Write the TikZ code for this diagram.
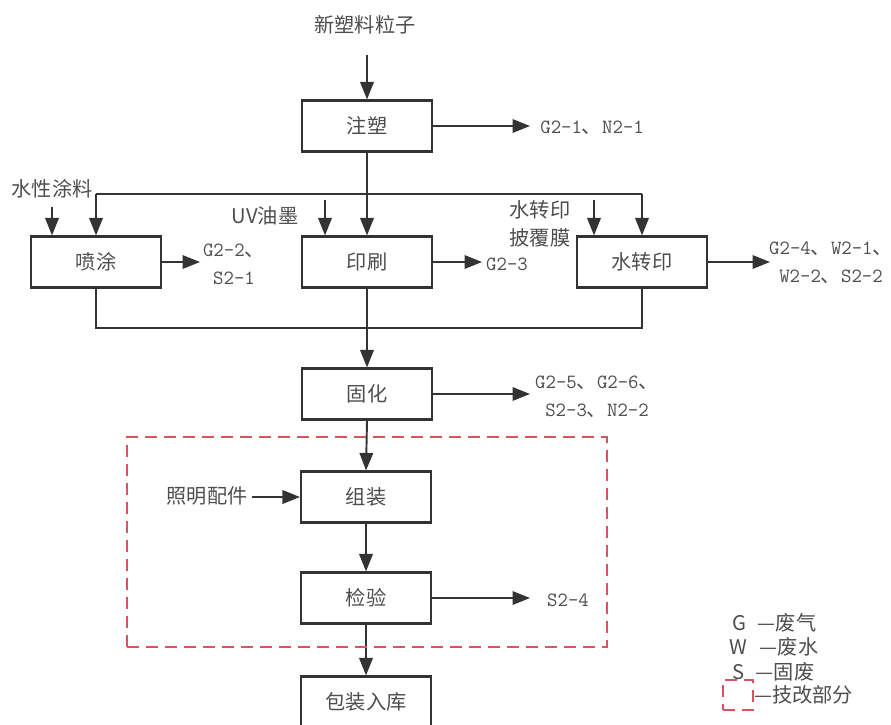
\documentclass[tikz,border=0pt]{standalone}
\usepackage{fontspec}
\setmainfont{Noto Sans CJK SC}
\usetikzlibrary{arrows.meta,positioning,calc}
\definecolor{txtgray}{HTML}{4D4D4D}
\definecolor{linegray}{HTML}{333333}
\definecolor{dashred}{HTML}{D9545E}
\newcommand{\dun}{{\rmfamily 、}}

\begin{document}
\begin{tikzpicture}[x=0.02cm, y=-0.02cm,
    every node/.style={font=\fontsize{11.5}{16}\selectfont, text=txtgray},
    procbox/.style={rectangle, draw=linegray, line width=1.2pt, minimum width=2.6cm, minimum height=1.02cm, inner sep=0pt},
    flow/.style={draw=linegray, line width=1.1pt},
    arr/.style={flow, -{Triangle[length=3.5mm,width=2.7mm]}},
    code/.style={font=\ttfamily\fontsize{11.5}{16}\selectfont, align=center, inner sep=0pt},
    redbox/.style={draw=dashred, line width=1pt, dash pattern=on 0.24cm off 0.14cm}]
    \useasboundingbox (0,0) rectangle (891,724);

    % process boxes
    \node[procbox] (zs) at (367,126) {注塑};
    \node[procbox] (pt) at (96,262) {喷涂};
    \node[procbox] (ys) at (367,262) {印刷};
    \node[procbox] (szy) at (642,262) {水转印};
    \node[procbox] (gh) at (367,394) {固化};
    \node[procbox] (zz) at (366,497) {组装};
    \node[procbox] (jy) at (366,598) {检验};
    \node[procbox] (bz) at (366,702) {包装入库};

    % raw materials
    \node (xin) at (365,25) {新塑料粒子};
    \node (stl) at (52,189) {水性涂料};
    \node (uv) at (265,216) {UV油墨};
    \node[align=center, inner sep=0pt] (pfm) at (540,224) {水转印\\披覆膜};
    \node (zm) at (207,496) {照明配件};

    \coordinate (a0) at (367,55);
    \coordinate (a1) at (52,207);
    \coordinate (a2) at (325,200);
    \coordinate (a3) at (594,200);
    \coordinate (a4) at (252,497);

    \draw[arr] (a0) -- (zs.north);
    \draw[arr] (a1) -- (a1 |- pt.north);
    \draw[arr] (a2) -- (a2 |- ys.north);
    \draw[arr] (a3) -- (a3 |- szy.north);
    \draw[arr] (a4) -- (zz.west);

    % main flow
    \coordinate (fl) at (pt.north |- 0,194);
    \coordinate (fr) at (szy.north |- 0,194);
    \coordinate (cl) at (pt.south |- 0,328);
    \coordinate (cr) at (szy.south |- 0,328);
    \draw[arr] (zs.south) -- (ys.north);
    \draw[flow] (fl) -- (fr);
    \draw[arr] (fl) -- (pt.north);
    \draw[arr] (fr) -- (szy.north);
    \draw[flow] (pt.south) -- (cl) -- (cr) -- (szy.south);
    \draw[arr] (ys.south) -- (gh.north);
    \draw[arr] (gh.south) -- (zz.north);
    \draw[arr] (zz.south) -- (jy.north);
    \draw[arr] (jy.south) -- (bz.north);

    % emissions
    \node[code, anchor=west] (o1) at (540,128) {G2-1\dun N2-1};
    \node[code] (o2) at (234,264) {G2-2\dun\\S2-1};
    \node[code] (o3) at (507,264) {G2-3};
    \node[code] (o4) at (831,263) {G2-4\dun W2-1\dun\\W2-2\dun S2-2};
    \node[code] (o5) at (597,397) {G2-5\dun G2-6\dun\\S2-3\dun N2-2};
    \node[code] (o6) at (568,600) {S2-4};

    \coordinate (t1) at (530,126);
    \coordinate (t2) at (200,262);
    \coordinate (t3) at (482,262);
    \coordinate (t4) at (770,262);
    \coordinate (t5) at (530,394);
    \coordinate (t6) at (530,598);

    \draw[arr] (zs.east) -- (t1);
    \draw[arr] (pt.east) -- (t2);
    \draw[arr] (ys.east) -- (t3);
    \draw[arr] (szy.east) -- (t4);
    \draw[arr] (gh.east) -- (t5);
    \draw[arr] (jy.east) -- (t6);

    % upgraded part
    \node[redbox, minimum width=9.6cm, minimum height=4.2cm] (jg) at (367,542) {};

    % legend
    \node (lg) at (739,623) {G};
    \node (lgt) at (787,623) {—废气};
    \node (lw) at (738,647) {W};
    \node (lwt) at (789,647) {—废水};
    \node (ls) at (739,672) {S};
    \node (lst) at (785,672) {—固废};
    \node[redbox, minimum size=0.6cm, inner sep=0pt] (lbox) at (738,695) {};
    \node[anchor=west, inner sep=0pt] (lbt) at (lbox.east) {—技改部分};
\end{tikzpicture}
\end{document}
